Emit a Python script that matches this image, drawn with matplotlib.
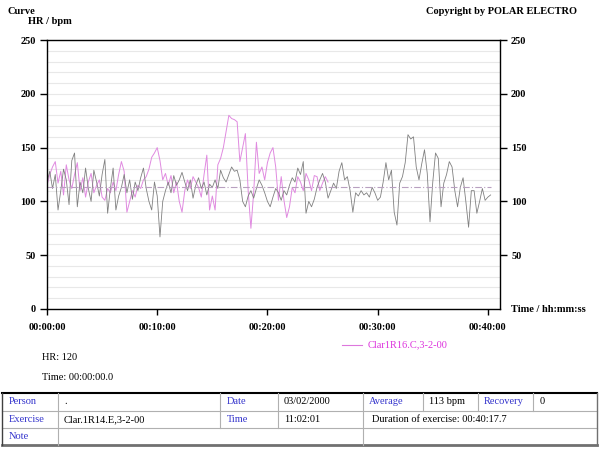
import matplotlib.pyplot as plt
from matplotlib.lines import Line2D
import numpy as np

plt.rcParams['font.family'] = ['Liberation Serif', 'DejaVu Serif']
plt.rcParams['font.weight'] = 'bold'

# heart rate samples, one every 15 s
step = 0.25  # minutes
hr_main = [118, 128, 112, 125, 92, 110, 130, 120, 97, 138, 145, 95, 118, 108, 131, 112,
           100, 129, 118, 105, 125, 139, 89, 112, 131, 92, 105, 113, 125, 108, 120, 102,
           118, 110, 122, 131, 112, 100, 92, 118, 105, 67, 100, 110, 118, 108, 124, 115,
           120, 127, 118, 110, 120, 103, 115, 122, 112, 118, 106, 116, 113, 120, 112, 129,
           122, 118, 125, 132, 128, 129, 120, 100, 95, 105, 110, 103, 112, 120, 115, 108,
           100, 95, 104, 112, 108, 101, 110, 106, 115, 122, 118, 131, 125, 137, 89, 100,
           95, 102, 113, 120, 126, 118, 103, 110, 117, 112, 128, 136, 120, 123, 110, 90,
           108, 105, 110, 106, 108, 104, 113, 108, 101, 104, 118, 136, 120, 129, 90, 78,
           117, 123, 136, 162, 158, 160, 132, 120, 135, 148, 126, 81, 118, 145, 140, 95,
           117, 125, 137, 132, 110, 95, 113, 122, 100, 76, 110, 110, 89, 100, 112, 101,
           104, 106]
hr_other = [115, 125, 132, 137, 117, 128, 106, 134, 120, 112, 125, 136, 110, 122, 104, 118,
            126, 108, 115, 120, 104, 101, 112, 108, 118, 110, 125, 137, 128, 90, 100, 110,
            104, 115, 112, 120, 123, 130, 141, 145, 150, 138, 120, 126, 115, 124, 108, 118,
            100, 90, 110, 120, 112, 123, 118, 113, 104, 125, 143, 92, 105, 92, 134, 140,
            150, 165, 180, 177, 176, 174, 137, 150, 163, 110, 75, 108, 155, 126, 132, 120,
            136, 145, 150, 132, 101, 123, 101, 85, 95, 113, 108, 123, 118, 110, 126, 120,
            110, 124, 123, 110, 117, 123, 118]
other_name = 'Clar1R16.C,3-2-00'
average = 113
duration = 40 + 17.7 / 60

xticks = [0, 10, 20, 30, 40]
xlabels = ['00:00:00', '00:10:00', '00:20:00', '00:30:00', '00:40:00']

t_main = np.arange(len(hr_main)) * step
t_other = np.arange(len(hr_other)) * step

W, H = 600, 450
fig = plt.figure(figsize=(6, 4.5), dpi=100)
ax = fig.add_axes([47 / W, 1 - 309 / H, 453 / W, 269 / H])

ax.plot(t_other, hr_other, color='#e08ae0', lw=0.7)
ax.plot(t_main, hr_main, color='#808080', lw=0.6)
ax.plot([0, duration], [average, average], color='#b8a0c0', lw=0.8,
        ls=(0, (6, 2, 1, 2)))

ax.set_xlim(0, 41.1)
ax.set_ylim(0, 250)
ax.set_yticks(range(0, 251, 50))
ax.set_yticks(range(0, 251, 10), minor=True)
ax.set_xticks(xticks)
ax.set_xticklabels(xlabels)
ax.grid(which='both', axis='y', color='#e8e8e8', lw=0.8)
ax.set_axisbelow(True)
ax.tick_params(axis='y', which='minor', length=0)
ax.tick_params(axis='y', which='major', direction='out', length=5, width=1,
               labelsize=7.5, right=True, labelright=True, pad=3)
ax.tick_params(axis='x', which='major', direction='out', length=4, width=1,
               labelsize=7.5, pad=6)
# the right axis shows no label at 0, the time axis title sits there
first = ax.yaxis.get_major_ticks()[0]
first.label2.set_visible(False)
first.tick2line.set_visible(False)
for s in ax.spines.values():
    s.set_linewidth(1)

# overlay in pixel coordinates for the texts and the table
ov = fig.add_axes([0, 0, 1, 1])
ov.set_xlim(0, W)
ov.set_ylim(H, 0)
ov.axis('off')

ov.text(7, 11, 'Curve', fontsize=7.5, va='center')
ov.text(28, 22, 'HR / bpm', fontsize=7.5, va='center')
ov.text(577, 11, 'Copyright by POLAR ELECTRO', fontsize=7.5, va='center', ha='right')
ov.text(511, 309, 'Time / hh:mm:ss', fontsize=7.5, va='center')

ov.add_line(Line2D([342, 362], [345, 345], color='#dd77dd', lw=0.8))
ov.text(368, 345, other_name, fontsize=7.5, color='#dd33dd', va='center',
        fontweight='normal')
ov.text(42, 357, 'HR: 120', fontsize=7.5, va='center', fontweight='normal')
ov.text(42, 377, 'Time: 00:00:00.0', fontsize=7.5, va='center', fontweight='normal')

# table
blue = '#3333cc'
rows = [393, 411, 428, 445]
inner = '#b0b0b0'
for y in rows[1:3]:
    ov.add_line(Line2D([2, 597], [y, y], color=inner, lw=0.8))
ov.add_line(Line2D([2, 597], [rows[0], rows[0]], color='black', lw=1.5))
ov.add_line(Line2D([2, 597], [rows[3], rows[3]], color='#707070', lw=2))
ov.add_line(Line2D([2, 2], [rows[0], rows[3]], color='#404040', lw=1))
ov.add_line(Line2D([597, 597], [rows[0], rows[3]], color='#707070', lw=1))
ov.add_line(Line2D([58, 58], [rows[0], rows[3]], color=inner, lw=0.8))
for x in [220, 278]:
    ov.add_line(Line2D([x, x], [rows[0], rows[2]], color=inner, lw=0.8))
ov.add_line(Line2D([363, 363], [rows[0], rows[3]], color=inner, lw=0.8))
for x in [423, 478, 533]:
    ov.add_line(Line2D([x, x], [rows[0], rows[1]], color=inner, lw=0.8))

cells = [
    (9, 0, 'Person', blue), (64, 0, '.', 'black'), (227, 0, 'Date', blue),
    (284, 0, '03/02/2000', 'black'), (369, 0, 'Average', blue),
    (429, 0, '113 bpm', 'black'), (484, 0, 'Recovery', blue), (540, 0, '0', 'black'),
    (9, 1, 'Exercise', blue), (64, 1, 'Clar.1R14.E,3-2-00', 'black'),
    (227, 1, 'Time', blue), (284, 1, '11:02:01', 'black'),
    (372, 1, 'Duration of exercise: 00:40:17.7', 'black'),
    (9, 2, 'Note', blue),
]
for x, r, txt, c in cells:
    yc = (rows[r] + rows[r + 1]) / 2
    ov.text(x, yc, txt, fontsize=7.5, color=c, va='center', fontweight='normal')

fig.savefig('out.png', dpi=100)
